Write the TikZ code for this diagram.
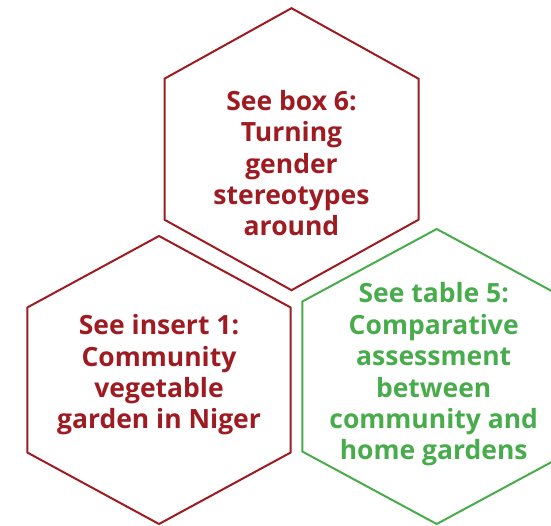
\documentclass[tikz,border=0pt]{standalone}
\usepackage{fontspec}
\setmainfont{Open Sans}
\definecolor{boxred}{RGB}{158,27,34}
\definecolor{boxgreen}{RGB}{72,172,76}

\begin{document}
\begin{tikzpicture}[x=1pt,y=-1pt,
  hexa/.style={line width=2pt,line join=miter},
  label/.style={align=center,font=\fontsize{26.5}{31.4}\selectfont\bfseries,inner sep=0pt}]
  \useasboundingbox (0,0) rectangle (551,525);

  \begin{scope}[shift={(291.5,149.2)}]
    \draw[hexa,boxred] (0,-141) -- (127,-70.5) -- (127,70.5) -- (0,141)
      -- (-127,70.5) -- (-127,-70.5) -- cycle;
    \node[label,text=boxred] (box) at (0,14) {See box 6:\\Turning\\gender\\stereotypes\\around};
  \end{scope}

  \begin{scope}[shift={(159,380)}]
    \draw[hexa,boxred] (0,-144) -- (131.7,-72.5) -- (131.7,72.5) -- (0,144)
      -- (-131.7,72.5) -- (-131.7,-72.5) -- cycle;
    \node[label,text=boxred] (insert) at (0,-5) {See insert 1:\\Community\\vegetable\\garden in Niger};
  \end{scope}

  \begin{scope}[shift={(436.7,376.5)}]
    \draw[hexa,boxgreen] (0,-147.5) -- (134.4,-75) -- (134.4,75) -- (0,147.5)
      -- (-134.4,75) -- (-134.4,-75) -- cycle;
    \node[label,text=boxgreen] (table) at (-3,-2) {See table 5:\\Comparative\\assessment\\between\\community and\\home gardens};
  \end{scope}
\end{tikzpicture}
\end{document}
